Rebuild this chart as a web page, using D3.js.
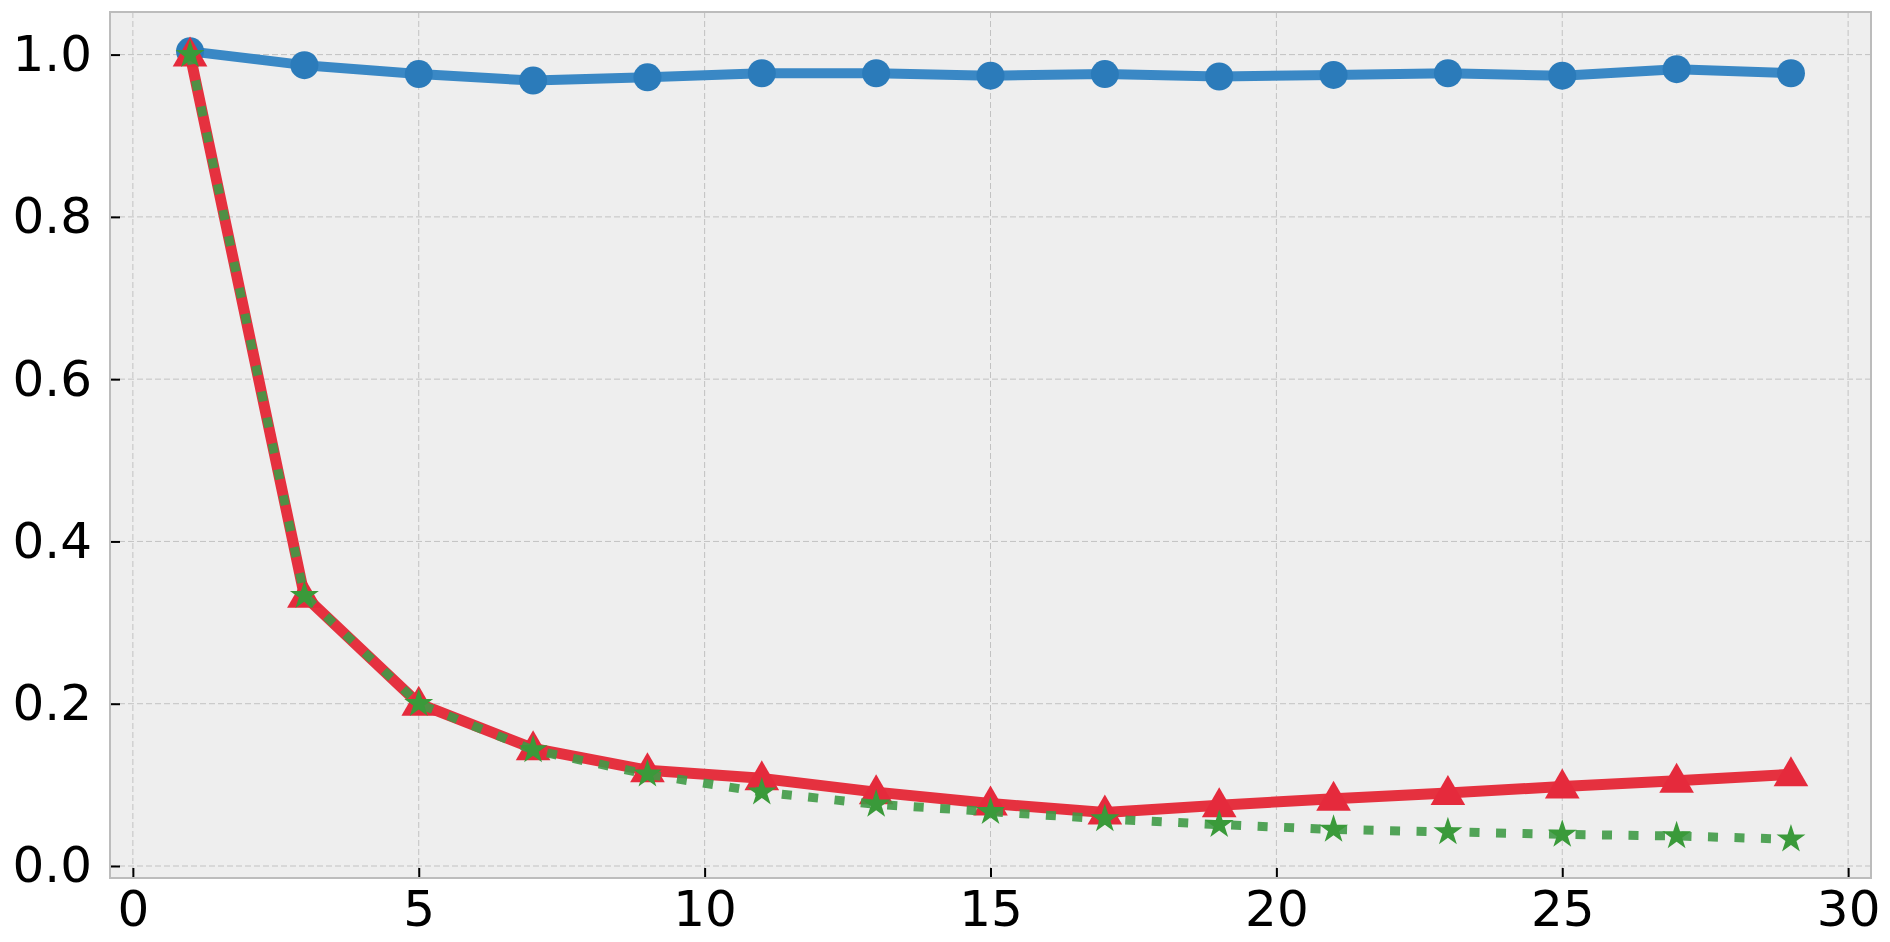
<!DOCTYPE html>
<html><head><meta charset="utf-8">
<script src="https://cdn.jsdelivr.net/npm/d3@7/dist/d3.min.js"></script>
<style>
html,body{margin:0;padding:0;background:#fff;}
svg{display:block;font-family:"DejaVu Sans",sans-serif;}
</style></head>
<body>
<svg id="chart" width="1890" height="942"></svg>
<script>
const xs = [1,3,5,7,9,11,13,15,17,19,21,23,25,27,29];
const blueVals  = [1.004,0.987,0.976,0.968,0.972,0.977,0.977,0.974,0.976,0.973,0.975,0.977,0.974,0.982,0.977];
const redVals   = [1.0,0.333,0.200,0.145,0.118,0.108,0.091,0.077,0.066,0.075,0.083,0.090,0.098,0.105,0.113];
const greenVals = [1.0,0.333,0.200,0.143,0.113,0.091,0.076,0.067,0.058,0.051,0.045,0.042,0.039,0.037,0.033];
const xTicks = [0,5,10,15,20,25,30];
const yTicks = [0.0,0.2,0.4,0.6,0.8,1.0];

const svg = d3.select("#chart");
const L=110, R=1871, T=12, B=878;
const x = d3.scaleLinear().domain([-0.4,30.4]).range([L,R]);
const y = d3.scaleLinear().domain([-0.0148,1.0525]).range([B,T]);

svg.append("rect").attr("x",L).attr("y",T).attr("width",R-L).attr("height",B-T).attr("fill","#eeeeee");

const g = svg.append("g");
g.selectAll(".vg").data(xTicks).join("line")
  .attr("x1",d=>x(d)).attr("x2",d=>x(d)).attr("y1",T).attr("y2",B)
  .attr("stroke","#c2c2c2").attr("stroke-width",1).attr("stroke-dasharray","6,3");
g.selectAll(".hg").data(yTicks).join("line")
  .attr("y1",d=>y(d)).attr("y2",d=>y(d)).attr("x1",L).attr("x2",R)
  .attr("stroke","#c2c2c2").attr("stroke-width",1).attr("stroke-dasharray","6,3");

const xAxis = d3.axisBottom(x).tickValues(xTicks).tickFormat(d3.format("d")).tickSizeInner(-10).tickSizeOuter(0).tickPadding(12);
const yAxis = d3.axisLeft(y).tickValues(yTicks).tickFormat(d3.format(".1f")).tickSizeInner(-10).tickSizeOuter(0).tickPadding(18);
const gx = svg.append("g").attr("transform",`translate(0,${B})`).call(xAxis);
const gy = svg.append("g").attr("transform",`translate(${L},0)`).call(yAxis);
[gx,gy].forEach(a=>{
  a.select(".domain").remove();
  a.selectAll(".tick line").attr("stroke","#000").attr("stroke-width",2);
  a.selectAll(".tick text").attr("fill","#000").attr("font-size",50).attr("font-family","DejaVu Sans");
});

svg.append("rect").attr("x",L).attr("y",T).attr("width",R-L).attr("height",B-T)
  .attr("fill","none").attr("stroke","#bcbcbc").attr("stroke-width",2);

const line = vals => d3.line().x((d,i)=>x(xs[i])).y(d=>y(d))(vals);
const marks = svg.append("g");

// blue
marks.append("path").attr("d",line(blueVals)).attr("fill","none")
  .attr("stroke","#3a88c5").attr("stroke-width",10).attr("stroke-linejoin","round").attr("stroke-linecap","round");
marks.selectAll(".bm").data(blueVals).join("circle")
  .attr("cx",(d,i)=>x(xs[i])).attr("cy",d=>y(d)).attr("r",14).attr("fill","#2b7bba");

// red
marks.append("path").attr("d",line(redVals)).attr("fill","none")
  .attr("stroke","#e5313f").attr("stroke-width",11).attr("stroke-linejoin","round").attr("stroke-linecap","butt");
const tri = d3.symbol().type(d3.symbolTriangle).size(520);
marks.selectAll(".rm").data(redVals).join("path")
  .attr("d",tri).attr("transform",(d,i)=>`translate(${x(xs[i])},${y(d)+2})`).attr("fill","#e52a3c");

// green
marks.append("path").attr("d",line(greenVals)).attr("fill","none")
  .attr("stroke","#3f9a46").attr("stroke-opacity",0.9).attr("stroke-width",9).attr("stroke-dasharray","10,16.5").attr("stroke-linecap","butt");
const star = d3.symbol().type(d3.symbolStar).size(260);
marks.selectAll(".gm").data(greenVals).join("path")
  .attr("d",star).attr("transform",(d,i)=>`translate(${x(xs[i])},${y(d)})`).attr("fill","#3a9a3a");
</script>
</body></html>
